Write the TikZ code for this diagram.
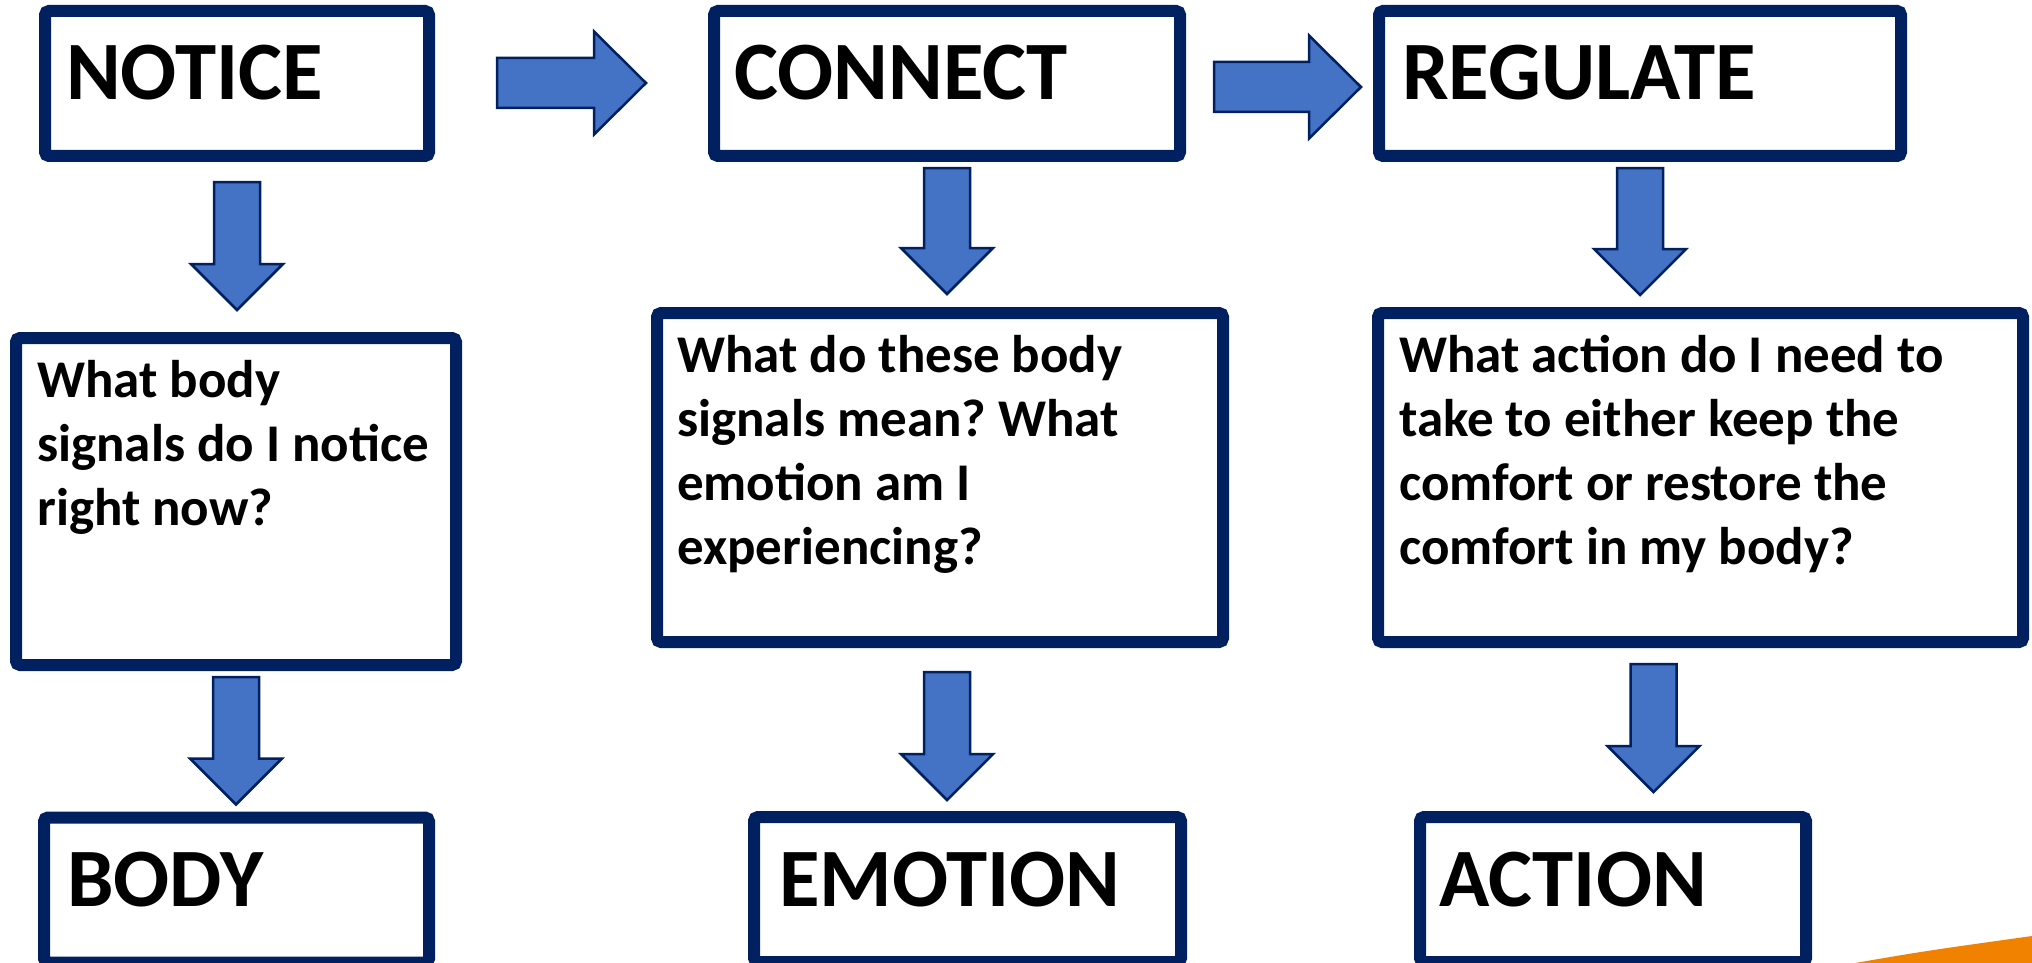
\documentclass[tikz,border=0pt]{standalone}
\usepackage{fontspec}
\setmainfont{Carlito}
\usetikzlibrary{calc}
\definecolor{navy}{RGB}{0,32,96}
\definecolor{arrowblue}{RGB}{68,114,196}
\definecolor{swoosh}{RGB}{240,130,0}
\frenchspacing
\tikzset{
  box/.style={draw=navy, line width=12pt, rounded corners=4pt, fill=white, inner sep=0pt, outer sep=6pt},
  barrow/.style={fill=arrowblue, draw=navy, line width=2.5pt, line join=miter},
  titletext/.style={anchor=base west, inner sep=0pt, font=\fontsize{83pt}{100pt}\selectfont\bfseries},
  qtext/.style={anchor=base west, inner sep=0pt, font=\fontsize{53pt}{64pt}\selectfont\bfseries},
}
\newcommand\dnarrow[2]{\draw[barrow] let \p1=#1, \p2=#2 in
  (\x1-23pt,\y1) -- (\x1+23pt,\y1) -- (\x1+23pt,\y2+46pt) -- (\x1+46pt,\y2+46pt) -- (\x1,\y2) -- (\x1-46pt,\y2+46pt) -- (\x1-23pt,\y2+46pt) -- cycle;}
\newcommand\rtarrow[2]{\draw[barrow] let \p1=#1, \p2=#2 in
  (\x1,\y1+25pt) -- (\x2-52pt,\y1+25pt) -- (\x2-52pt,\y1+51.5pt) -- (\x2,\y1) -- (\x2-52pt,\y1-51.5pt) -- (\x2-52pt,\y1-25pt) -- (\x1,\y1-25pt) -- cycle;}
\begin{document}
\begin{tikzpicture}[x=1pt,y=-1pt]
\useasboundingbox (0,0) rectangle (2032,963);
\fill[white] (0,0) rectangle (2032,963);
\clip (0,0) rectangle (2032,963);

% orange swoosh
\fill[swoosh] (1855,963) .. controls (1925,951) .. (2032,936) -- (2032,963) -- cycle;

% boxes
\node[box, minimum width=384pt, minimum height=145pt] (notice)   at (237,83.5) {};
\node[box, minimum width=466pt, minimum height=145pt] (connect)  at (947,83.5) {};
\node[box, minimum width=522pt, minimum height=145pt] (regulate) at (1640,83.5) {};
\node[box, minimum width=440pt, minimum height=327pt] (q1) at (236,501.5) {};
\node[box, minimum width=566pt, minimum height=329pt] (q2) at (940,477.5) {};
\node[box, minimum width=645pt, minimum height=329pt] (q3) at (1700.5,477.5) {};
\node[box, minimum width=385pt, minimum height=145pt] (body)    at (236.5,890) {};
\node[box, minimum width=427pt, minimum height=145pt] (emotion) at (967.5,889.5) {};
\node[box, minimum width=386pt, minimum height=145pt] (action)  at (1613,889.5) {};

% texts
\node[titletext] (tnotice)   at ($(notice.north west)+(27,95)$) {NOTICE};
\node[titletext] (tconnect)  at ($(connect.north west)+(26,95)$) {CONNECT};
\node[titletext] (tregulate) at ($(regulate.north west)+(29,95)$) {REGULATE};
\node[titletext] (tbody)     at ($(body.north west)+(29,95)$) {BODY};
\node[titletext] (temotion)  at ($(emotion.north west)+(31,95)$) {EMOTION};
\node[titletext] (taction)   at ($(action.north west)+(25,95)$) {ACTION};
\node[qtext] (tq1) at ($(q1.north west)+(27,65)$) {\parbox[t]{600pt}{\raggedright What body\\signals do I notice\\right now?}};
\node[qtext] (tq2) at ($(q2.north west)+(26,65)$) {\parbox[t]{600pt}{\raggedright What do these body\\signals mean? What\\emotion am I\\experiencing?}};
\node[qtext] (tq3) at ($(q3.north west)+(27,65)$) {\parbox[t]{640pt}{\raggedright What action do I need to\\take to either keep the\\comfort or restore the\\comfort in my body?}};

% block arrows
\rtarrow{($(notice.east)+(62,-0.5)$)}{($(connect.west)+(-62,0)$)}
\rtarrow{($(connect.east)+(28,3.5)$)}{($(regulate.west)+(-12,0)$)}
\dnarrow{($(notice.south)+(0,20)$)}{($(q1.north)+(0,-22)$)}
\dnarrow{($(q1.south)+(0,6)$)}{($(body.north)+(0,-7)$)}
\dnarrow{($(connect.south)+(0,6)$)}{($(q2.north)+(0,-13)$)}
\dnarrow{($(q2.south)+(7,24)$)}{($(emotion.north)+(0,-11)$)}
\dnarrow{($(regulate.south)+(0,6)$)}{($(q3.north)+(0,-12)$)}
\dnarrow{($(q3.south)+(-47,16)$)}{($(action.north)+(0,-19)$)}
\end{tikzpicture}
\end{document}
